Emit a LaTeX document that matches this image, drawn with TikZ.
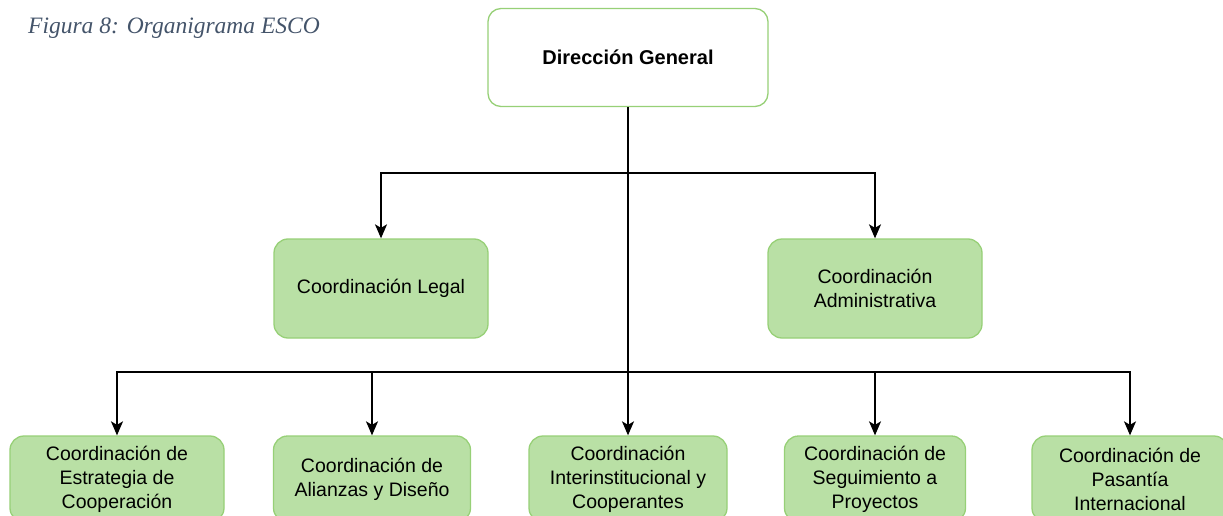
\documentclass[tikz,border=0pt]{standalone}
\usepackage{fontspec}
\setmainfont{Liberation Sans}
\newfontfamily\capfont{Liberation Serif}
\usetikzlibrary{arrows.meta}
\definecolor{boxfill}{HTML}{B9E0A5}
\definecolor{boxline}{HTML}{97D077}
\definecolor{capcol}{HTML}{44546A}
\tikzset{
  greenbox/.style={draw=boxline, fill=boxfill, line width=1.3pt, rounded corners=14pt,
    align=center, inner sep=0pt, font=\fontsize{19.5}{24}\selectfont},
  topbox/.style={draw=boxline, fill=white, line width=1.3pt, rounded corners=13pt,
    align=center, inner sep=0pt, font=\fontsize{20}{24}\selectfont\bfseries},
  conn/.style={line width=1.4pt, draw=black, -{Stealth[length=14pt,width=12pt,inset=3.5pt]}},
  plain/.style={line width=1.4pt, draw=black}
}
\begin{document}
\begin{tikzpicture}[x=1pt,y=-1pt]
\useasboundingbox (0,0) rectangle (1223,516);
\clip (0,0) rectangle (1223,516);
\node[anchor=base west, text=capcol, inner sep=0pt, font=\capfont\itshape\fontsize{23.5}{27}\selectfont] (cap) at (28,34) {Figura 8: Organigrama ESCO};

\node[topbox, minimum width=280pt, minimum height=98pt] (top) at (628,57.5) {Dirección General};

\node[greenbox, minimum width=214pt, minimum height=99pt] (legal) at (381,288.5) {Coordinación Legal};
\node[greenbox, minimum width=214pt, minimum height=99pt] (admin) at (875,288.5) {Coordinación\\Administrativa};

\node[greenbox, minimum width=214pt, minimum height=86pt] (b1) at (117,479) {Coordinación de\\Estrategia de\\Cooperación};
\node[greenbox, minimum width=197pt, minimum height=86pt] (b2) at (372,479) {Coordinación de\\Alianzas y Diseño};
\node[greenbox, minimum width=198pt, minimum height=86pt] (b3) at (628,479) {Coordinación\\Interinstitucional y\\Cooperantes};
\node[greenbox, minimum width=181pt, minimum height=86pt] (b4) at (875,479) {Coordinación de\\Seguimiento a\\Proyectos};
\node[greenbox, minimum width=196pt, minimum height=86pt] (b5) at (1130,479) {Coordinación de\\Pasantía\\Internacional};

\coordinate (j1) at (628,173);
\coordinate (j2) at (628,372);

\draw[plain] (top.south) -- (j2);
\draw[conn] (j1) -| (legal);
\draw[conn] (j1) -| (admin);
\draw[conn] (j2) -| (b1);
\draw[conn] (j2) -| (b2);
\draw[conn] (j2) -- (b3);
\draw[conn] (j2) -| (b4);
\draw[conn] (j2) -| (b5);
\end{tikzpicture}
\end{document}
